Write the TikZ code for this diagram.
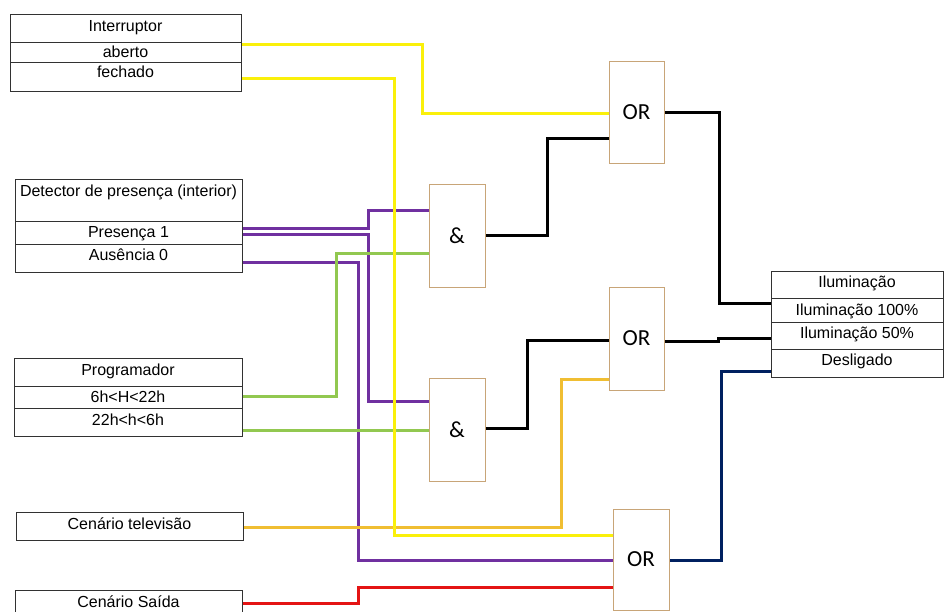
\documentclass[tikz,border=0pt]{standalone}
\usepackage{fontspec}
\usetikzlibrary{backgrounds}
\setmainfont{Liberation Sans}
\newfontfamily\gatefont{Carlito}
\definecolor{ylwc}{RGB}{250,240,10}
\definecolor{purc}{RGB}{112,48,160}
\definecolor{grnc}{RGB}{146,200,80}
\definecolor{orgc}{RGB}{240,190,50}
\definecolor{redc}{RGB}{228,20,20}
\definecolor{navc}{RGB}{0,32,96}
\definecolor{gatec}{RGB}{200,165,120}
\definecolor{boxc}{RGB}{50,50,50}
\begin{document}
\begin{tikzpicture}[x=1pt,y=-1pt,
  rowbox/.style={draw=boxc, line width=0.9pt, anchor=north west, inner sep=0pt, outer sep=0pt, minimum width=#1},
  lbl/.style={anchor=base, inner sep=0pt, font=\fontsize{16}{18}\selectfont},
  gate/.style={draw=gatec, fill=white, line width=0.9pt, anchor=north west, inner sep=0pt, outer sep=0pt, font=\gatefont\fontsize{23}{26}\selectfont},
  wire/.style={line width=3pt, line join=miter},
]
\useasboundingbox (0,0) rectangle (944,612);

% ---- input boxes ----
\node[rowbox=231pt, minimum height=28pt] (interruptor) at (10,14) {};
\node[rowbox=231pt, minimum height=20pt] (aberto) at (10,42) {};
\node[rowbox=231pt, minimum height=29pt] (fechado) at (10,62) {};
\node[lbl] (t-interruptor) at (125.5,32) {Interruptor};
\node[lbl] (t-aberto) at (125.5,58) {aberto};
\node[lbl] (t-fechado) at (125.5,78) {fechado};

\node[rowbox=227pt, minimum height=42pt] (detector) at (15,179) {};
\node[rowbox=227pt, minimum height=23pt] (presenca) at (15,221) {};
\node[rowbox=227pt, minimum height=28pt] (ausencia) at (15,244) {};
\node[lbl] (t-detector) at (128.5,197) {Detector de presença (interior)};
\node[lbl] (t-presenca) at (128.5,237) {Presença 1};
\node[lbl] (t-ausencia) at (128.5,261) {Ausência 0};

\node[rowbox=228pt, minimum height=28pt] (programador) at (14,358) {};
\node[rowbox=228pt, minimum height=22pt] (dia) at (14,386) {};
\node[rowbox=228pt, minimum height=28pt] (noite) at (14,408) {};
\node[lbl] (t-programador) at (128,375) {Programador};
\node[lbl] (t-dia) at (128,402) {6h<H<22h};
\node[lbl] (t-noite) at (128,425) {22h<h<6h};

\node[rowbox=227pt, minimum height=28pt] (tv) at (16,512) {};
\node[lbl] (t-tv) at (129.5,529) {Cenário televisão};

\node[rowbox=227pt, minimum height=35pt] (saida) at (15,590) {};
\node[lbl] (t-saida) at (128.5,607) {Cenário Saída};

% ---- output box ----
\node[rowbox=172pt, minimum height=27pt] (ilum) at (771,271) {};
\node[rowbox=172pt, minimum height=24pt] (ilum100) at (771,298) {};
\node[rowbox=172pt, minimum height=27pt] (ilum50) at (771,322) {};
\node[rowbox=172pt, minimum height=28pt] (deslig) at (771,349) {};
\node[lbl] (t-ilum) at (857,287) {Iluminação};
\node[lbl] (t-ilum100) at (857,315) {Iluminação 100\%};
\node[lbl] (t-ilum50) at (857,338) {Iluminação 50\%};
\node[lbl] (t-deslig) at (857,365) {Desligado};

% ---- gates ----
\path
  (609,61)  node[gate, minimum width=55pt, minimum height=102pt] (or1) {OR}
  (429,184) node[gate, minimum width=56pt, minimum height=103pt] (and1) {\&}
  (429,378) node[gate, minimum width=56pt, minimum height=103pt] (and2) {\&}
  (609,287) node[gate, minimum width=55pt, minimum height=103pt] (or2) {OR}
  (613,509) node[gate, minimum width=56pt, minimum height=101pt] (or3) {OR};

% ---- wires (behind the gates) ----
\begin{scope}[on background layer]
\draw[wire, purc] ([yshift=3.5pt]presenca.east) -- ++(126,0) |- ([yshift=24.5pt]and1.west);
\draw[wire, purc] ([yshift=-2.5pt]presenca.east) -- ++(126,0) |- ([yshift=28.5pt]and2.west);
\draw[wire, purc] ([yshift=-4pt]ausencia.east) -- ++(116,0) |- ([yshift=-0.5pt]or3.west);
\draw[wire, grnc] ([yshift=1pt]dia.east) -- ++(94,0) |- ([yshift=-17.5pt]and1.west);
\draw[wire, grnc] ([yshift=-8pt]noite.east) -- ([yshift=-8pt]noite.east -| and2.west);
\draw[wire, orgc] ([yshift=-1pt]tv.east) -- ++(318,0) |- ([yshift=-40.5pt]or2.west);
\draw[wire, redc] ([yshift=4.5pt]saida.east) -- ++(116,0) |- ([yshift=-27.5pt]or3.west);
\draw[wire, ylwc] ([yshift=7pt]aberto.east) -- ++(181,0) |- ([yshift=-2pt]or1.west);
\draw[wire, ylwc] ([yshift=-2.5pt]fechado.east) -- ++(153,0) |- ([yshift=24.5pt]or3.west);
\draw[wire, black] ([yshift=-0.5pt]and1.east) -- ++(62,0) |- ([yshift=-27pt]or1.west);
\draw[wire, black] ([yshift=1.5pt]and2.east) -- ++(42,0) |- ([yshift=-1.5pt]or2.west);
\draw[wire, black] ([yshift=-1pt]or1.east) -- ++(55,0) |- ([yshift=7pt]ilum100.west);
\draw[wire, black] ([yshift=-2.5pt]or2.east) -- ++(54,0) -- ++(0,-3) -- ([yshift=-2.5pt]ilum50.west);
\draw[wire, navc] ([yshift=-0.5pt]or3.east) -- ++(52,0) |- ([yshift=-8pt]deslig.west);
\end{scope}
\end{tikzpicture}
\end{document}
